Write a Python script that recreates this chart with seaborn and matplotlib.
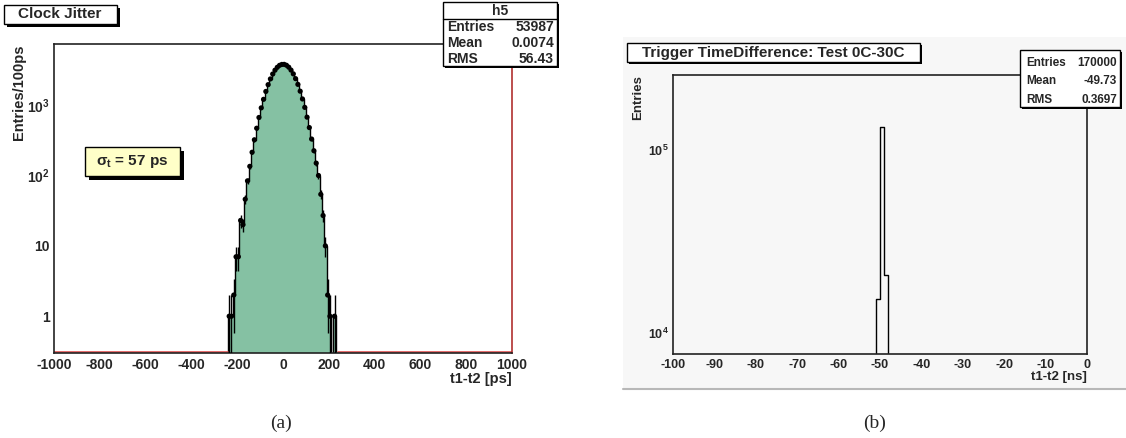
import numpy as np
import pandas as pd
import matplotlib
matplotlib.use('Agg')
import matplotlib.pyplot as plt
import seaborn as sns
from matplotlib.patches import Rectangle
from matplotlib.lines import Line2D
from matplotlib.ticker import MultipleLocator, LogLocator, FuncFormatter, NullFormatter

# %%
# data
# (a) clock jitter, 10 ps bins
jitter_centers = list(range(-235, 240, 10))
jitter_counts = [1, 1, 2, 7, 7, 23, 20, 46, 84, 135, 214, 322, 470, 668, 915, 1210,
                 1565, 1955, 2360, 2770, 3140, 3450, 3680, 3790,
                 3800, 3690, 3465, 3150, 2785, 2380, 1975, 1580, 1225, 930, 675, 480,
                 330, 225, 150, 100, 54, 27, 10, 2, 1, 0, 1, 0]
jitter_edges = list(range(-240, 250, 10))
jitter_stats = [("Entries", "53987"), ("Mean", "0.0074"), ("RMS", "56.43")]

# (b) trigger time difference, 1 ns bins
trig_centers = [-51.5, -50.5, -49.5, -48.5, -47.5]
trig_counts = [0, 15300, 134000, 20700, 0]
trig_edges = [-52, -51, -50, -49, -48, -47]
trig_stats = [("Entries", "170000"), ("Mean", "-49.73"), ("RMS", "0.3697")]

df_a = pd.DataFrame({'t': jitter_centers, 'n': jitter_counts})
df_b = pd.DataFrame({'t': trig_centers, 'n': trig_counts})

# %%
sns.set_theme(style='white')
plt.rcParams['font.family'] = ['Liberation Sans', 'DejaVu Sans']
plt.rcParams['font.weight'] = 'bold'
plt.rcParams['axes.unicode_minus'] = False
plt.rcParams['mathtext.fontset'] = 'custom'
plt.rcParams['mathtext.rm'] = 'Liberation Sans:bold'
plt.rcParams['mathtext.bf'] = 'Liberation Sans:bold'
plt.rcParams['mathtext.it'] = 'Liberation Sans:bold'

W, H = 1126, 438
fig = plt.figure(figsize=(W / 100, H / 100), dpi=100)


def fx(x):
    return x / W


def fy(y):
    return 1 - y / H


def rect(x0, y0, x1, y1, **kw):
    r = Rectangle((fx(x0), fy(y1)), (x1 - x0) / W, (y1 - y0) / H,
                  transform=fig.transFigure, **kw)
    fig.patches.append(r)
    return r


def shadow_box(x0, y0, x1, y1, face='white', sh=3):
    rect(x0 + sh, y0 + sh, x1 + sh, y1 + sh, facecolor='black', edgecolor='none', zorder=5)
    rect(x0, y0, x1, y1, facecolor=face, edgecolor='black', lw=1.0, zorder=6)


def root_log(v, pos):
    if v < 0.5:
        return ''
    e = int(round(np.log10(v)))
    if e == 0:
        return '1'
    if e == 1:
        return '10'
    return r'$\mathbf{10^{%d}}$' % e


# grey pad behind panel (b)
rect(623, 37, 1126, 389, facecolor='#f7f7f7', edgecolor='none', zorder=-2)
fig.lines.append(Line2D([fx(623), 1], [fy(389), fy(389)], transform=fig.transFigure,
                        color='#b8b8b8', lw=1.5, zorder=-1))

# %%
# (a) Clock jitter
ax1 = fig.add_axes([fx(54), fy(353), (512 - 54) / W, (353 - 44) / H])
ax1.set_yscale('log')
sns.histplot(data=df_a, x='t', weights='n', bins=jitter_edges, element='step',
             fill=True, color='#85c1a3', alpha=1, edgecolor='black', linewidth=1.0, ax=ax1)
pts = df_a[df_a['n'] > 0]
ax1.errorbar(pts['t'], pts['n'], yerr=np.sqrt(pts['n']), fmt='none',
             ecolor='black', elinewidth=1.0, zorder=3)
sns.scatterplot(data=pts, x='t', y='n', color='black', s=14, edgecolor='none',
                ax=ax1, zorder=4)
ax1.set_xlim(-1000, 1000)
ax1.set_ylim(0.3, 7400)
# red baseline of the overlaid histogram
ax1.plot([-1000, -240], [0.31, 0.31], color='#e05050', lw=1.2, zorder=1)
ax1.plot([240, 1000], [0.31, 0.31], color='#e05050', lw=1.2, zorder=1)
ax1.xaxis.set_major_locator(MultipleLocator(200))
ax1.xaxis.set_minor_locator(MultipleLocator(50))
ax1.yaxis.set_major_locator(LogLocator(base=10))
ax1.yaxis.set_minor_locator(LogLocator(base=10, subs=np.arange(2, 10)))
ax1.yaxis.set_major_formatter(FuncFormatter(root_log))
ax1.yaxis.set_minor_formatter(NullFormatter())
ax1.tick_params(axis='x', which='major', direction='in', length=6.5, width=1, pad=3.5, labelsize=10)
ax1.tick_params(axis='x', which='minor', direction='in', length=3.2, width=1)
ax1.tick_params(axis='y', which='major', direction='in', length=8.6, width=1, pad=3, labelsize=10)
ax1.tick_params(axis='y', which='minor', direction='in', length=4.3, width=1)
ax1.set_xlabel('t1-t2 [ps]', loc='right', fontsize=10.5, fontweight='bold', labelpad=0)
ax1.set_ylabel('Entries/100ps', loc='top', fontsize=10.5, fontweight='bold', labelpad=1)
for s in ax1.spines.values():
    s.set_color('#222222')
    s.set_linewidth(1.2)
ax1.spines['right'].set_color('#b0302f')

# title and stats boxes
shadow_box(4, 5, 117, 24)
fig.text(fx(60), fy(14.5), 'Clock Jitter', ha='center', va='center', fontsize=11,
         fontweight='bold', zorder=7)
shadow_box(443, 2, 557, 66, sh=2)
fig.lines.append(Line2D([fx(443), fx(557)], [fy(19), fy(19)], transform=fig.transFigure,
                        color='black', lw=1.0, zorder=7))
fig.text(fx(500), fy(11), 'h5', ha='center', va='center', fontsize=10, fontweight='bold', zorder=7)
for i, (k, v) in enumerate(jitter_stats):
    yy = 27 + 16 * i
    fig.text(fx(447), fy(yy), k, ha='left', va='center', fontsize=10, fontweight='bold', zorder=7)
    fig.text(fx(554), fy(yy), v, ha='right', va='center', fontsize=10, fontweight='bold', zorder=7)

shadow_box(85, 147, 180, 176, face='#ffffc8', sh=4)
fig.text(fx(132), fy(161.5), r'σ$_\mathbf{t}$ = 57 ps', ha='center', va='center', fontsize=11,
         fontweight='bold', zorder=7)

# %%
# (b) Trigger time difference
ax2 = fig.add_axes([fx(673), fy(354), (1087 - 673) / W, (354 - 75) / H])
ax2.set_facecolor('#f7f7f7')
ax2.set_yscale('log')
sns.histplot(data=df_b, x='t', weights='n', bins=trig_edges, element='step',
             fill=False, color='black', linewidth=1.0, ax=ax2)
ax2.set_xlim(-100, 0)
ax2.set_ylim(7640, 257000)
ax2.xaxis.set_major_locator(MultipleLocator(10))
ax2.xaxis.set_minor_locator(MultipleLocator(2))
ax2.yaxis.set_major_locator(LogLocator(base=10))
ax2.yaxis.set_minor_locator(LogLocator(base=10, subs=np.arange(2, 10)))
ax2.yaxis.set_major_formatter(FuncFormatter(root_log))
ax2.yaxis.set_minor_formatter(NullFormatter())
ax2.tick_params(axis='x', which='major', direction='in', length=5.8, width=1, pad=3.5, labelsize=9)
ax2.tick_params(axis='x', which='minor', direction='in', length=2.5, width=1)
ax2.tick_params(axis='y', which='major', direction='in', length=8.6, width=1, pad=3, labelsize=9)
ax2.tick_params(axis='y', which='minor', direction='in', length=4.3, width=1)
ax2.set_xlabel('t1-t2 [ns]', loc='right', fontsize=9.5, fontweight='bold', labelpad=0)
ax2.set_ylabel('Entries', loc='top', fontsize=9.5, fontweight='bold', labelpad=3)
for s in ax2.spines.values():
    s.set_color('#222222')
    s.set_linewidth(1.2)

shadow_box(627, 43, 920, 62, sh=2)
fig.text(fx(773), fy(52.5), 'Trigger TimeDifference: Test 0C-30C', ha='center', va='center',
         fontsize=11, fontweight='bold', zorder=7)
shadow_box(1020, 50, 1120, 107, sh=2)
for i, (k, v) in enumerate(trig_stats):
    yy = 63 + 18.5 * i
    fig.text(fx(1026), fy(yy), k, ha='left', va='center', fontsize=8.5, fontweight='bold', zorder=7)
    fig.text(fx(1117), fy(yy), v, ha='right', va='center', fontsize=8.5, fontweight='bold', zorder=7)

# captions
fig.text(fx(281), fy(423), '(a)', ha='center', va='center', fontsize=14,
         family=['Liberation Serif'], fontweight='normal')
fig.text(fx(875), fy(423), '(b)', ha='center', va='center', fontsize=14,
         family=['Liberation Serif'], fontweight='normal')

fig.savefig('out.png', dpi=100)
